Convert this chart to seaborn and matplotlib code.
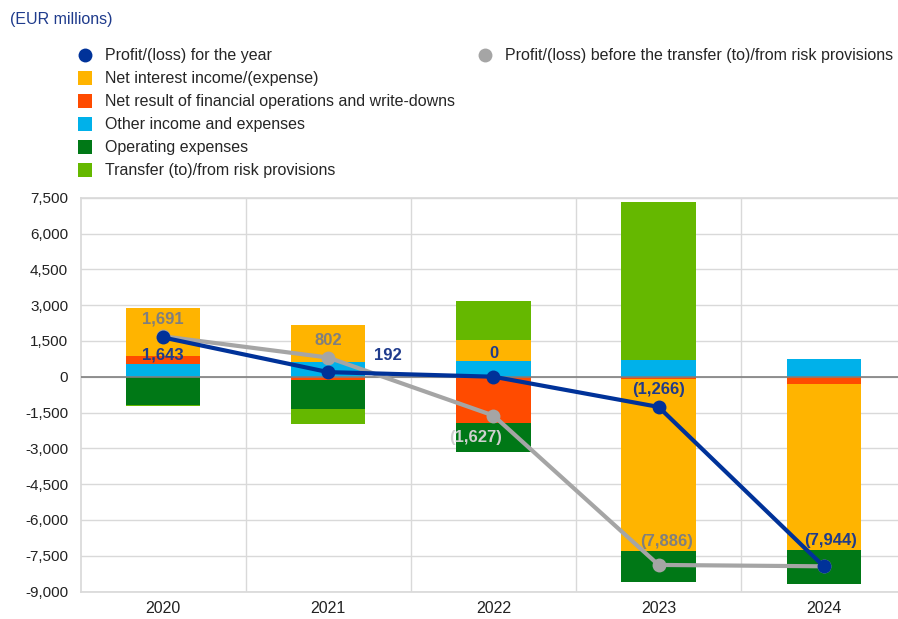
import numpy as np
import seaborn as sns
import matplotlib.pyplot as plt
from matplotlib.lines import Line2D

years = ["2020", "2021", "2022", "2023", "2024"]
other_income = [524, 630, 640, 704, 733]
net_financial = [335, -120, -1960, -110, -285]
net_interest = [2030, 1540, 888, -7207, -6980]
operating_exp = [-1198, -1248, -1195, -1273, -1412]
risk_transfer = [-48, -610, 1627, 6620, 0]
profit_year = [1643, 192, 0, -1266, -7944]
profit_before = [1691, 802, -1627, -7886, -7944]

label_profit = ["1,643", "192", "0", "(1,266)", "(7,944)"]
label_before = ["1,691", "802", "(1,627)", "(7,886)", ""]

c_blue = "#003299"
c_grey = "#a5a5a5"
c_lab_blue = "#1f3b8c"
c_lab_grey = "#7f7f7f"
colors = {
    "other": "#00b1ea",
    "fin": "#ff4b00",
    "nii": "#ffb400",
    "opex": "#007816",
    "risk": "#65b800",
}

sns.set_theme(style="white")
plt.rcParams["font.family"] = ["Liberation Sans", "DejaVu Sans"]

fig = plt.figure(figsize=(8.98, 6.19), dpi=100)
ax = fig.add_axes([0.0898, 0.0444, 0.9102, 0.6362])

x = np.arange(len(years))
pos = np.zeros(len(years))
neg = np.zeros(len(years))
# stack in order: other, fin. ops, interest, opex, provisions
for key, vals in [("other", other_income), ("fin", net_financial), ("nii", net_interest),
                  ("opex", operating_exp), ("risk", risk_transfer)]:
    vals = np.array(vals, dtype=float)
    bottom = np.where(vals >= 0, pos, neg)
    ax.bar(x, vals, bottom=bottom, width=0.45, color=colors[key], linewidth=0, zorder=2)
    pos = pos + np.where(vals >= 0, vals, 0)
    neg = neg + np.where(vals < 0, vals, 0)

sns.lineplot(x=x, y=profit_before, ax=ax, color=c_grey, lw=3, marker="o", markersize=10,
             markeredgewidth=0, zorder=4)
sns.lineplot(x=x, y=profit_year, ax=ax, color=c_blue, lw=3, marker="o", markersize=10,
             markeredgewidth=0, zorder=5)

ax.axhline(0, color="#7f7f7f", lw=1.2, zorder=3)

ax.set_xlim(-0.5, 4.45)
ax.set_ylim(-9000, 7500)
ax.set_yticks(np.arange(-9000, 7501, 1500))
ax.set_yticklabels([f"{v:,}" for v in np.arange(-9000, 7501, 1500)])
ax.set_xticks(x)
ax.set_xticklabels(years)
ax.tick_params(axis="y", labelsize=11, colors="#222222", length=0, pad=9)
ax.tick_params(axis="x", labelsize=11.5, colors="#222222", length=0, pad=7)
ax.grid(axis="y", color="#d9d9d9", lw=1, zorder=0)
for xv in [0.5, 1.5, 2.5, 3.5]:
    ax.axvline(xv, color="#d9d9d9", lw=1, zorder=0)
for s in ["top", "bottom", "left"]:
    ax.spines[s].set_color("#d9d9d9")
ax.spines["right"].set_visible(False)

lab = dict(fontsize=12, fontweight="bold", ha="center", va="center", zorder=6)
ax.text(0, profit_before[0] + 720, label_before[0], color=c_lab_grey, **lab)
ax.text(0, profit_year[0] - 750, label_profit[0], color=c_lab_blue, **lab)
ax.text(1, profit_before[1] + 700, label_before[1], color=c_lab_grey, **lab)
ax.text(1.36, profit_year[1] + 710, label_profit[1], color=c_lab_blue, **lab)
ax.text(2, profit_year[2] + 980, label_profit[2], color=c_lab_blue, **lab)
ax.text(1.89, profit_before[2] - 900, label_before[2], color="#d0d0d0", **lab)
ax.text(3, profit_year[3] + 730, label_profit[3], color=c_lab_blue, **lab)
ax.text(3.05, profit_before[3] + 1000, label_before[3], color=c_lab_grey, **lab)
ax.text(4.04, profit_year[4] + 1090, label_profit[4], color=c_lab_blue, **lab)

fig.text(0.011, 0.968, "(EUR millions)", color=c_lab_blue, fontsize=11.5, va="center")

sq = dict(marker="s", linestyle="none", markersize=10, markeredgewidth=0)
handles1 = [
    Line2D([], [], marker="o", linestyle="none", markersize=10, color=c_blue, markeredgewidth=0),
    Line2D([], [], color=colors["nii"], **sq),
    Line2D([], [], color=colors["fin"], **sq),
    Line2D([], [], color=colors["other"], **sq),
    Line2D([], [], color=colors["opex"], **sq),
    Line2D([], [], color=colors["risk"], **sq),
]
labels1 = ["Profit/(loss) for the year", "Net interest income/(expense)",
           "Net result of financial operations and write-downs",
           "Other income and expenses", "Operating expenses",
           "Transfer (to)/from risk provisions"]
leg_kw = dict(frameon=False, fontsize=11.5, loc="upper left", borderpad=0, borderaxespad=0,
              handlelength=1.0, handletextpad=0.75, labelspacing=0.5)
fig.legend(handles1, labels1, bbox_to_anchor=(0.0857, 0.922), **leg_kw)
h2 = [Line2D([], [], marker="o", linestyle="none", markersize=10, color=c_grey, markeredgewidth=0)]
fig.legend(h2, ["Profit/(loss) before the transfer (to)/from risk provisions"],
           bbox_to_anchor=(0.531, 0.922), **leg_kw)

fig.savefig("out.png", dpi=100)
